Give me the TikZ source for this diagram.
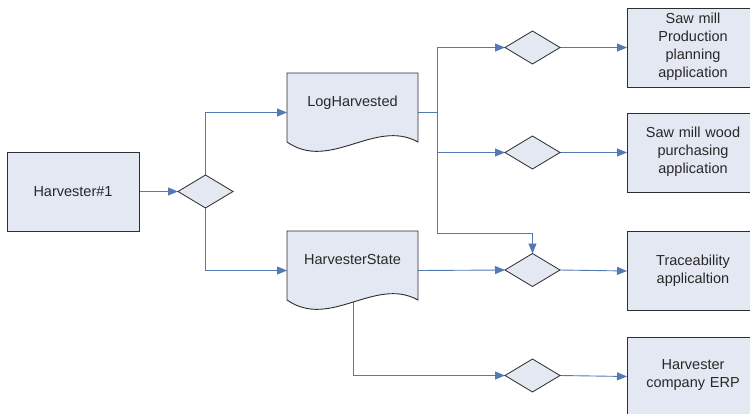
\documentclass[tikz,border=0pt]{standalone}
\usepackage{fontspec}
\setmainfont{Liberation Sans}
\usetikzlibrary{shapes.geometric,arrows.meta,calc}
\pgfdeclarelayer{background}
\pgfsetlayers{background,main}
\definecolor{boxfill}{RGB}{227,232,242}
\definecolor{boxline}{RGB}{45,45,45}
\definecolor{conncol}{RGB}{84,122,180}
\definecolor{txt}{RGB}{40,40,40}
\tikzset{
  every node/.style={inner sep=0pt, outer sep=0pt},
  appbox/.style={rectangle, draw=boxline, fill=boxfill, line width=0.9pt,
    minimum width=132pt, minimum height=79pt},
  docbox/.style={rectangle, minimum width=131pt, minimum height=79pt},
  docshape/.style={draw=boxline, fill=boxfill, line width=0.9pt},
  gate/.style={diamond, draw=boxline, fill=boxfill, line width=0.8pt,
    minimum width=55pt, minimum height=33pt},
  lbl/.style={text=txt, font=\fontsize{14.5pt}{18pt}\selectfont, align=center, text width=125pt},
  conn/.style={draw=conncol, line width=0.9pt},
  arr/.style={conn, -{Triangle[length=10pt,width=8pt]}}
}
\begin{document}
\begin{tikzpicture}[x=1pt,y=-1pt]
\useasboundingbox (0,0) rectangle (750,413);
\clip (0,0) rectangle (750,413);

% left box and first gate
\node[appbox] (h1) at (73,191.5) {};
\node[lbl] (h1t) at (73,192) {Harvester\#1};
\node[gate] (d1) at (205.5,191.5) {};

% documents
\node[docbox] (lh) at (352.5,112.5) {};
\draw[docshape] (lh.north west) -- (lh.north east) -- ($(lh.south east)+(0,-10)$)
  .. controls ($(lh.south west)+(88,-34)$) and ($(lh.south west)+(43,20)$) .. ($(lh.south west)+(0,-10)$) -- cycle;
\node[lbl] (lht) at (352.5,103) {LogHarvested};

\node[docbox] (hs) at (352.5,270.5) {};
\draw[docshape] (hs.north west) -- (hs.north east) -- ($(hs.south east)+(0,-10)$)
  .. controls ($(hs.south west)+(88,-34)$) and ($(hs.south west)+(43,20)$) .. ($(hs.south west)+(0,-10)$) -- cycle;
\node[lbl] (hst) at (352.5,260) {HarvesterState};

% right gates
\node[gate] (d2) at (532.5,47.5) {};
\node[gate] (d3) at (532.5,152.5) {};
\node[gate] (d4) at (532.5,270) {};
\node[gate] (d5) at (532.5,375.5) {};

% right boxes
\node[appbox] (b1) at (693,47.5) {};
\node[lbl] (b1t) at (693,47) {Saw mill\\Production\\planning\\application};
\node[appbox] (b2) at (693,152.5) {};
\node[lbl] (b2t) at (693,152) {Saw mill wood\\purchasing\\application};
\node[appbox] (b3) at (693,271) {};
\node[lbl] (b3t) at (693,270.5) {Traceability\\applicaltion};
\node[appbox] (b4) at (693,376.5) {};
\node[lbl] (b4t) at (693,375) {Harvester\\company ERP};

\coordinate (j) at (437.5,112.5);
\coordinate (k) at (437.5,233);
\coordinate (m) at ($(hs.south west)+(66,-10)$);

\begin{pgfonlayer}{background}
\draw[arr] (h1.east) -- (d1.west);
\draw[arr] (d1.north) |- (lh.west);
\draw[arr] (d1.south) |- (hs.west);
\draw[conn] (lh.east) -- (j);
\draw[arr] (j) |- (d2.west);
\draw[arr] (j) |- (d3.west);
\draw[arr] (j) -- (k) -| (d4.north);
\draw[arr] (hs.east) -- (d4.west);
\draw[arr] (m) |- (d5.west);
\draw[arr] (d2.east) -- (b1.west);
\draw[arr] (d3.east) -- (b2.west);
\draw[arr] (d4.east) -- (b3.west);
\draw[arr] (d5.east) -- (b4.west);
\end{pgfonlayer}
\end{tikzpicture}
\end{document}
